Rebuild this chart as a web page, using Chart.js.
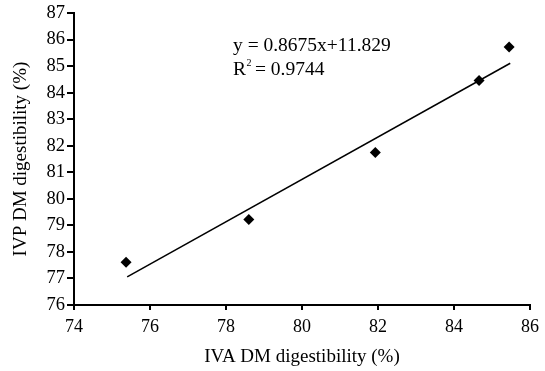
<!DOCTYPE html>
<html>
<head>
<meta charset="utf-8">
<script src="https://cdn.jsdelivr.net/npm/chart.js@4"></script>
<style>
  html, body { margin: 0; padding: 0; background: #fff; }
  #wrap { width: 545px; height: 371px; }
</style>
</head>
<body>
<div id="wrap"><canvas id="chart" width="545" height="371"></canvas></div>
<script>
// values
const ivaValues = [75.37, 78.6, 81.93, 84.66, 85.45];
const ivpValues = [77.61, 79.22, 81.75, 84.46, 85.72];
// trendline ends as drawn
const trendX = [75.4, 85.48];
const trendY = [77.06, 85.11];
const xTicks = [74, 76, 78, 80, 82, 84, 86];
const yTicks = [76, 77, 78, 79, 80, 81, 82, 83, 84, 85, 86, 87];
const equationText = "y = 0.8675x+11.829";
const r2Value = "0.9744";

const serif = "'Liberation Serif', 'Times New Roman', serif";

// equation label
const extras = {
    id: "extras",
    afterDraw(chart) {
        const ctx = chart.ctx;
        ctx.save();
        ctx.fillStyle = "#000";
        ctx.font = "19.5px " + serif;
        ctx.textBaseline = "alphabetic";
        ctx.fillText(equationText, 233, 51);
        ctx.fillText("R", 233, 75);
        const rw = ctx.measureText("R").width;
        ctx.font = "10px " + serif;
        ctx.fillText("2", 233 + rw + 0.5, 66);
        ctx.font = "19.5px " + serif;
        ctx.fillText(" = " + r2Value, 233 + rw + 4, 75);
        ctx.restore();
    }
};

new Chart(document.getElementById("chart"), {
    type: "scatter",
    data: {
        datasets: [
            {
                label: "IVP",
                data: ivaValues.map((x, i) => ({ x: x, y: ivpValues[i] })),
                pointStyle: "rectRot",
                pointRadius: 5.5,
                backgroundColor: "#000",
                borderColor: "#000",
                borderWidth: 0
            },
            {
                label: "Linear",
                type: "line",
                data: trendX.map((x, i) => ({ x: x, y: trendY[i] })),
                borderColor: "#000",
                borderWidth: 1.5,
                pointRadius: 0,
                fill: false
            }
        ]
    },
    options: {
        responsive: false,
        animation: false,
        layout: { padding: { top: 13, right: 10, left: 0, bottom: 0 } },
        plugins: { legend: { display: false }, tooltip: { enabled: false } },
        scales: {
            x: {
                type: "linear",
                min: 74,
                max: 86,
                afterBuildTicks: s => { s.ticks = xTicks.map(v => ({ value: v })); },
                afterFit: s => { s.height = 66; },
                border: { color: "#000", width: 2 },
                grid: { drawOnChartArea: false, color: "#000", lineWidth: 2, tickLength: 5 },
                ticks: { color: "#000", font: { family: serif, size: 18 }, padding: 6 },
                title: {
                    display: true,
                    text: "IVA DM digestibility (%)",
                    color: "#000",
                    font: { family: serif, size: 19 },
                    padding: { top: 4, bottom: 3 }
                }
            },
            y: {
                type: "linear",
                min: 76,
                max: 87,
                afterBuildTicks: s => { s.ticks = yTicks.map(v => ({ value: v })); },
                afterFit: s => { s.width = 74; },
                border: { color: "#000", width: 2 },
                grid: { drawOnChartArea: false, color: "#000", lineWidth: 2, tickLength: 7 },
                ticks: { color: "#000", font: { family: serif, size: 18.5 }, padding: 2 },
                title: {
                    display: true,
                    text: "IVP DM digestibility (%)",
                    color: "#000",
                    font: { family: serif, size: 19 },
                    padding: { top: 10, bottom: 4 }
                }
            }
        }
    },
    plugins: [extras]
});
</script>
</body>
</html>
